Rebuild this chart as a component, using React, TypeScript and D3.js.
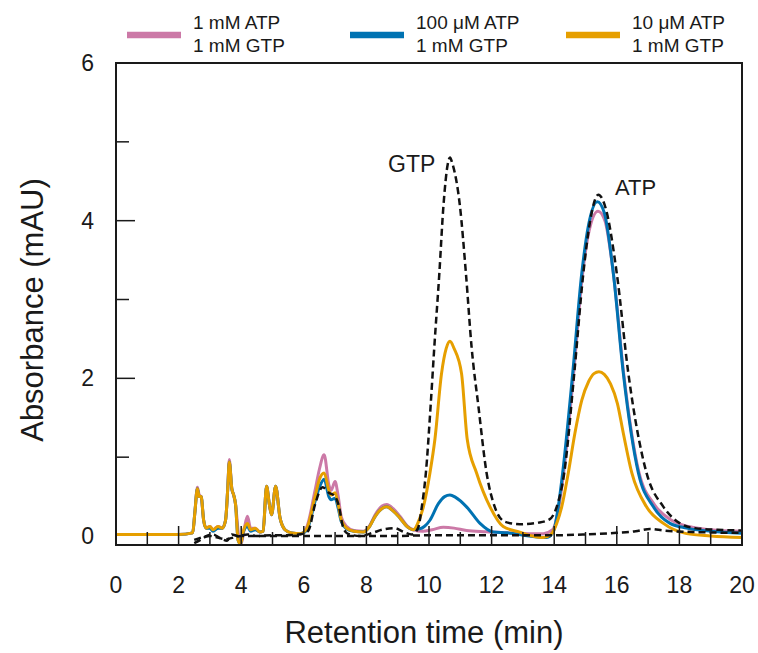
import React from "react";
import * as d3 from "d3";

type Pt = [number, number];

// retention time (min), absorbance (mAU)
const pinkTrace: Pt[] = [
  [0, 0.02], [1, 0.02], [2, 0.02], [2.45, 0.04], [2.52, 0.3], [2.6, 0.62], [2.66, 0.52], [2.72, 0.5],
  [2.8, 0.2], [2.88, 0.1], [3.0, 0.12], [3.1, 0.08], [3.26, 0.12], [3.4, 0.1], [3.5, 0.2], [3.57, 0.6],
  [3.62, 0.97], [3.7, 0.6], [3.76, 0.52], [3.82, 0.4], [3.92, 0.0], [4.0, -0.1], [4.1, 0.1], [4.2, 0.25],
  [4.3, 0.1], [4.45, 0.1], [4.6, 0.05], [4.7, 0.06], [4.81, 0.63], [4.9, 0.4], [4.97, 0.27], [5.1, 0.63],
  [5.24, 0.23], [5.4, 0.08], [5.6, 0.04], [5.9, 0.03], [6.1, 0.12], [6.36, 0.58], [6.5, 0.85], [6.65, 1.03],
  [6.8, 0.65], [6.87, 0.58], [7.0, 0.69], [7.1, 0.5], [7.2, 0.24], [7.37, 0.12], [7.6, 0.07], [7.9, 0.06],
  [8.1, 0.13], [8.28, 0.27], [8.5, 0.38], [8.65, 0.4], [8.85, 0.35], [9.07, 0.25], [9.3, 0.13], [9.5, 0.08],
  [9.8, 0.06], [10.1, 0.08], [10.46, 0.11], [10.8, 0.1], [11.2, 0.07], [11.84, 0.055], [12.5, 0.04],
  [13.2, 0.03], [13.65, 0.03], [13.95, 0.08], [14.13, 0.33], [14.3, 0.8], [14.62, 2.06], [14.9, 3.3],
  [15.12, 3.88], [15.4, 4.12], [15.62, 4.0], [15.9, 3.3], [16.22, 2.06], [16.7, 0.82], [17.2, 0.4],
  [17.75, 0.2], [18.3, 0.12], [19, 0.08], [20, 0.06],
];

const blueTrace: Pt[] = [
  [0, 0.02], [1, 0.02], [2, 0.02], [2.45, 0.04], [2.52, 0.3], [2.6, 0.6], [2.66, 0.5], [2.72, 0.5],
  [2.8, 0.2], [2.88, 0.1], [3.0, 0.1], [3.1, 0.06], [3.26, 0.1], [3.4, 0.1], [3.5, 0.2], [3.57, 0.6],
  [3.62, 0.94], [3.7, 0.6], [3.76, 0.52], [3.82, 0.4], [3.9, -0.05], [3.98, -0.1], [4.06, 0.04], [4.2, 0.12],
  [4.3, 0.06], [4.45, 0.08], [4.6, 0.05], [4.7, 0.06], [4.81, 0.63], [4.9, 0.4], [4.97, 0.27], [5.1, 0.63],
  [5.24, 0.23], [5.4, 0.08], [5.6, 0.04], [5.9, 0.03], [6.1, 0.08], [6.36, 0.44], [6.5, 0.62], [6.65, 0.72],
  [6.8, 0.5], [6.87, 0.46], [7.0, 0.48], [7.1, 0.35], [7.2, 0.18], [7.37, 0.09], [7.6, 0.06], [7.9, 0.05],
  [8.1, 0.12], [8.28, 0.25], [8.5, 0.35], [8.65, 0.37], [8.85, 0.32], [9.07, 0.23], [9.3, 0.12], [9.5, 0.08],
  [9.7, 0.09], [9.85, 0.12], [10.03, 0.2], [10.3, 0.41], [10.5, 0.5], [10.67, 0.52], [10.85, 0.49],
  [11.2, 0.37], [11.63, 0.16], [12.05, 0.05], [12.5, 0.04], [13.2, 0.0], [13.76, -0.02], [13.97, 0.05],
  [14.13, 0.37], [14.27, 0.8], [14.59, 2.06], [14.88, 3.33], [15.1, 3.95], [15.38, 4.24], [15.6, 4.1],
  [15.89, 3.33], [16.21, 2.06], [16.69, 0.8], [17.17, 0.37], [17.7, 0.16], [18.23, 0.1], [19, 0.06], [20, 0.035],
];

const orangeTrace: Pt[] = [
  [0, 0.02], [1, 0.02], [2, 0.02], [2.45, 0.04], [2.52, 0.3], [2.6, 0.6], [2.66, 0.5], [2.72, 0.5],
  [2.8, 0.2], [2.88, 0.1], [3.0, 0.12], [3.1, 0.08], [3.26, 0.12], [3.4, 0.1], [3.5, 0.2], [3.57, 0.6],
  [3.62, 0.94], [3.7, 0.6], [3.76, 0.52], [3.82, 0.4], [3.9, -0.05], [3.98, -0.1], [4.06, 0.05], [4.2, 0.16],
  [4.3, 0.08], [4.45, 0.1], [4.6, 0.05], [4.7, 0.06], [4.81, 0.63], [4.9, 0.4], [4.97, 0.27], [5.1, 0.63],
  [5.24, 0.23], [5.4, 0.08], [5.6, 0.04], [5.9, 0.03], [6.1, 0.1], [6.36, 0.5], [6.5, 0.72], [6.65, 0.8],
  [6.8, 0.58], [6.87, 0.52], [7.0, 0.55], [7.1, 0.4], [7.2, 0.2], [7.37, 0.1], [7.6, 0.06], [7.9, 0.05],
  [8.1, 0.12], [8.28, 0.25], [8.5, 0.35], [8.65, 0.37], [8.85, 0.32], [9.07, 0.23], [9.3, 0.12], [9.5, 0.08],
  [9.7, 0.22], [9.82, 0.37], [10.03, 0.8], [10.19, 1.23], [10.4, 2.06], [10.55, 2.38], [10.67, 2.47],
  [10.8, 2.38], [11.04, 2.06], [11.22, 1.23], [11.52, 0.8], [11.95, 0.37], [12.37, 0.12], [12.9, 0.05],
  [13.3, 0.0], [13.65, -0.02], [13.9, 0.02], [14.08, 0.16], [14.24, 0.37], [14.45, 0.8], [14.66, 1.3],
  [14.88, 1.72], [15.1, 1.96], [15.27, 2.06], [15.43, 2.085], [15.6, 2.05], [15.8, 1.93], [16.02, 1.68],
  [16.21, 1.3], [16.48, 0.8], [16.95, 0.37], [17.49, 0.16], [18.23, 0.03], [19, 0.0], [20, -0.02],
];

const standardTrace: Pt[] = [
  [2.5, -0.09], [2.7, -0.05], [2.9, 0.0], [3.1, 0.02], [3.3, -0.02], [3.55, -0.06], [3.7, 0.02], [3.9, 0.0],
  [4.2, 0.02], [4.5, 0.0], [5.0, 0.01], [5.5, 0.01], [6.0, 0.03], [6.15, 0.07], [6.36, 0.4], [6.6, 0.62],
  [6.8, 0.55], [7.0, 0.5], [7.12, 0.38], [7.25, 0.12], [7.4, 0.03], [7.8, 0.0], [8.2, 0.04], [8.5, 0.08],
  [8.9, 0.1], [9.2, 0.05], [9.45, 0.02], [9.65, 0.1], [9.77, 0.37], [9.9, 0.8], [10.05, 1.64], [10.17, 2.4],
  [10.33, 3.33], [10.46, 4.18], [10.6, 4.72], [10.67, 4.8], [10.75, 4.72], [10.99, 4.18], [11.18, 3.33],
  [11.36, 2.4], [11.58, 1.64], [11.84, 0.8], [12.1, 0.37], [12.43, 0.18], [12.9, 0.15], [13.5, 0.17],
  [13.85, 0.21], [14.08, 0.37], [14.32, 0.8], [14.64, 2.06], [14.93, 3.33], [15.15, 4.0], [15.41, 4.33],
  [15.65, 4.15], [16.0, 3.33], [16.37, 2.06], [16.95, 0.8], [17.49, 0.37], [18.02, 0.16], [18.5, 0.1],
  [19.2, 0.08], [20, 0.07],
];

const blankTrace: Pt[] = [
  [2.5, -0.05], [3, 0.0], [3.5, -0.04], [4, 0.0], [5, 0.0], [6, 0.0], [7, 0.0], [8, 0.0], [9, 0.0],
  [10, 0.01], [12, 0.01], [14, 0.01], [15, 0.02], [16, 0.04], [16.6, 0.06], [17.06, 0.09], [17.5, 0.07],
  [18.5, 0.05], [20, 0.04],
];

const seriesColors = ["#CC79A7", "#0072B2", "#E69F00"];
const legendLines = [
  ["1 mM ATP", "1 mM GTP"],
  ["100 μM ATP", "1 mM GTP"],
  ["10 μM ATP", "1 mM GTP"],
];
const xTickLabels = [0, 2, 4, 6, 8, 10, 12, 14, 16, 18, 20];
const yTickLabels = [0, 2, 4, 6];

const FONT = "'Liberation Sans', Arial, Helvetica, sans-serif";
const INK = "#1a1a1a";

export default function App() {
  const x = d3.scaleLinear().domain([0, 20]).range([116, 742]);
  const y = d3.scaleLinear().domain([-0.114, 6]).range([545, 63]);
  const line = d3
    .line<Pt>()
    .x((d) => x(d[0]))
    .y((d) => y(d[1]))
    .curve(d3.curveMonotoneX);

  const traces = [pinkTrace, blueTrace, orangeTrace];
  const legendX = [127, 350, 566];
  const minorX = d3.range(1, 20);
  const minorY = d3.range(1, 6);

  return (
    <svg
      width={758}
      height={653}
      style={{ position: "absolute", left: 0, top: 0, background: "#fff" }}
      fontFamily={FONT}
    >
      {/* legend */}
      {legendLines.map((lines, i) => (
        <g key={i}>
          <line
            x1={legendX[i]}
            x2={legendX[i] + 54}
            y1={35}
            y2={35}
            stroke={seriesColors[i]}
            strokeWidth={6.5}
          />
          <text x={legendX[i] + 66} y={29} fontSize={19} fill={INK}>
            {lines[0]}
          </text>
          <text x={legendX[i] + 66} y={52} fontSize={19} fill={INK}>
            {lines[1]}
          </text>
        </g>
      ))}

      {/* traces */}
      {traces.map((t, i) => (
        <path
          key={i}
          d={line(t) ?? ""}
          fill="none"
          stroke={seriesColors[i]}
          strokeWidth={3}
          strokeLinejoin="round"
        />
      ))}
      <path d={line(blankTrace) ?? ""} fill="none" stroke="#111" strokeWidth={2.5} strokeDasharray="7,4" />
      <path d={line(standardTrace) ?? ""} fill="none" stroke="#111" strokeWidth={2.5} strokeDasharray="7,4" />

      {/* ticks */}
      {minorX.map((m) => (
        <line
          key={"xt" + m}
          x1={x(m)}
          x2={x(m)}
          y1={545}
          y2={545 - (m % 2 === 0 ? 19 : 13)}
          stroke={INK}
          strokeWidth={1.5}
        />
      ))}
      {minorY.map((m) => (
        <line
          key={"yt" + m}
          x1={116}
          x2={116 + (m % 2 === 0 ? 19 : 13)}
          y1={y(m)}
          y2={y(m)}
          stroke={INK}
          strokeWidth={1.5}
        />
      ))}

      {/* frame */}
      <rect x={116} y={63} width={626} height={482} fill="none" stroke={INK} strokeWidth={2} />

      {/* tick labels */}
      {xTickLabels.map((v) => (
        <text key={"xl" + v} x={x(v)} y={593} fontSize={23} textAnchor="middle" fill={INK}>
          {v}
        </text>
      ))}
      {yTickLabels.map((v) => (
        <text
          key={"yl" + v}
          x={94}
          y={y(v)}
          fontSize={23}
          textAnchor="end"
          dominantBaseline="central"
          fill={INK}
        >
          {v}
        </text>
      ))}

      {/* peak annotations */}
      <text x={388} y={172} fontSize={23} fill={INK}>
        GTP
      </text>
      <text x={615} y={195} fontSize={22} fill={INK}>
        ATP
      </text>

      {/* axis titles */}
      <text x={424} y={643} fontSize={31} textAnchor="middle" fill={INK}>
        Retention time (min)
      </text>
      <text
        transform="translate(43,310) rotate(-90)"
        fontSize={31}
        textAnchor="middle"
        fill={INK}
      >
        Absorbance (mAU)
      </text>
    </svg>
  );
}
